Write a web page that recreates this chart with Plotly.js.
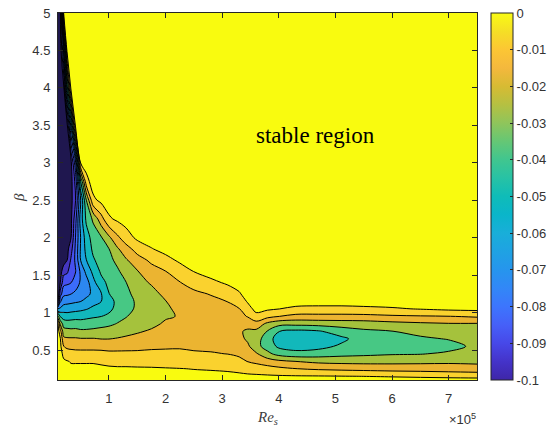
<!DOCTYPE html>
<html>
<head>
<meta charset="utf-8">
<script src="https://cdn.plot.ly/plotly-3.0.1.min.js"></script>
<style>html,body{margin:0;padding:0;background:#fff;}#chart{width:547px;height:432px;}</style>
</head>
<body>
<div id="chart"></div>
<script>
// Re_s grid (x) and beta grid (y)
const reS = [10000, 14000, 20000, 26000, 33000, 41000, 50000, 60000, 72000, 86000, 100000, 115000, 130000, 150000, 175000, 200000, 225000, 250000, 280000, 310000, 330000, 345000, 360000, 380000, 400000, 430000, 470000, 510000, 550000, 600000, 650000, 700000, 750000];
const beta = [0.1, 0.15, 0.25, 0.35, 0.45, 0.55, 0.65, 0.75, 0.85, 0.95, 1.05, 1.15, 1.25, 1.4, 1.55, 1.7, 1.85, 2.0, 2.25, 2.5, 2.75, 3.0, 3.5, 4.0, 4.5, 5.0];
// growth rate, one row per beta value
const growthRate = [
/*0.10*/ [0,0,-0.0005,-0.001,-0.001,-0.001,-0.001,-0.001,-0.001,-0.001,-0.001,-0.001,-0.001,-0.001,-0.001,-0.001,-0.001,-0.001,-0.001,-0.001,-0.001,-0.001,-0.001,-0.001,-0.001,-0.001,-0.001,-0.001,-0.001,-0.001,-0.001,-0.001,-0.001],
/*0.15*/ [0,-0.0003,-0.0015,-0.0024,-0.0026,-0.0028,-0.0028,-0.0028,-0.0028,-0.0028,-0.003,-0.003,-0.003,-0.003,-0.003,-0.003,-0.003,-0.003,-0.0032,-0.0033,-0.0035,-0.0036,-0.0035,-0.0037,-0.004,-0.0043,-0.0045,-0.0048,-0.0051,-0.0058,-0.0067,-0.0077,-0.0086],
/*0.25*/ [0,-0.0006,-0.0025,-0.0034,-0.0035,-0.0036,-0.0036,-0.0036,-0.0036,-0.0037,-0.0038,-0.004,-0.004,-0.0041,-0.0042,-0.0045,-0.0048,-0.0052,-0.0055,-0.006,-0.0068,-0.0081,-0.0095,-0.0113,-0.0128,-0.0148,-0.0164,-0.0173,-0.018,-0.0189,-0.0193,-0.02,-0.0207],
/*0.35*/ [0,-0.001,-0.0038,-0.0045,-0.0056,-0.0056,-0.0056,-0.0056,-0.0056,-0.0062,-0.0072,-0.0076,-0.0076,-0.008,-0.0082,-0.0085,-0.0088,-0.0095,-0.01,-0.0107,-0.0127,-0.0154,-0.0175,-0.0202,-0.023,-0.0252,-0.0275,-0.0283,-0.0286,-0.0283,-0.0278,-0.0271,-0.0276],
/*0.45*/ [0,-0.0015,-0.0073,-0.0106,-0.0115,-0.0119,-0.0119,-0.0119,-0.0119,-0.0121,-0.0128,-0.0129,-0.0129,-0.013,-0.0127,-0.0128,-0.013,-0.0139,-0.0143,-0.0152,-0.0166,-0.0192,-0.0237,-0.0325,-0.0386,-0.0415,-0.0405,-0.0382,-0.0371,-0.0359,-0.0355,-0.0335,-0.0312],
/*0.55*/ [0,-0.0025,-0.0148,-0.017,-0.0175,-0.0179,-0.0181,-0.0181,-0.0181,-0.0183,-0.0188,-0.0185,-0.0182,-0.0177,-0.0168,-0.0163,-0.016,-0.0166,-0.017,-0.0173,-0.0194,-0.0231,-0.0318,-0.0392,-0.047,-0.0495,-0.048,-0.0435,-0.0404,-0.0383,-0.0385,-0.038,-0.033],
/*0.65*/ [0,-0.004,-0.0227,-0.0237,-0.0238,-0.0238,-0.0244,-0.0244,-0.0244,-0.0252,-0.0252,-0.0244,-0.0234,-0.0223,-0.0204,-0.0188,-0.0182,-0.0188,-0.0191,-0.0194,-0.0221,-0.0267,-0.0305,-0.0405,-0.0498,-0.0525,-0.0512,-0.0472,-0.0405,-0.0374,-0.0365,-0.0345,-0.0318],
/*0.75*/ [-0.001,-0.0113,-0.0308,-0.0317,-0.0323,-0.0323,-0.0332,-0.0332,-0.0325,-0.0317,-0.0309,-0.0295,-0.0279,-0.026,-0.0239,-0.0213,-0.0203,-0.0211,-0.0213,-0.0215,-0.0238,-0.0265,-0.0272,-0.0355,-0.0448,-0.0475,-0.046,-0.0402,-0.0368,-0.0352,-0.0322,-0.0294,-0.0298],
/*0.85*/ [-0.004,-0.0267,-0.0395,-0.04,-0.0404,-0.0396,-0.0407,-0.0403,-0.0397,-0.0383,-0.0369,-0.0345,-0.0321,-0.0286,-0.0271,-0.0238,-0.0224,-0.0234,-0.0235,-0.0214,-0.0206,-0.0214,-0.0188,-0.0275,-0.0317,-0.0321,-0.0313,-0.0306,-0.03,-0.0281,-0.0267,-0.0257,-0.0258],
/*0.95*/ [-0.0317,-0.0452,-0.0494,-0.0506,-0.0494,-0.049,-0.0486,-0.0475,-0.0463,-0.0452,-0.0431,-0.0384,-0.0356,-0.0312,-0.03,-0.026,-0.0245,-0.0234,-0.0213,-0.0193,-0.0179,-0.0144,-0.008,-0.012,-0.0148,-0.0179,-0.0179,-0.0179,-0.0177,-0.0164,-0.0157,-0.0152,-0.0136],
/*1.05*/ [-0.0648,-0.0633,-0.06,-0.0595,-0.0592,-0.0583,-0.0573,-0.0557,-0.053,-0.0503,-0.0473,-0.0421,-0.0376,-0.0337,-0.0328,-0.0268,-0.0225,-0.0212,-0.0191,-0.0172,-0.0153,-0.0089,-0.002,-0.0035,-0.0048,-0.007,-0.0077,-0.0077,-0.0069,-0.006,-0.0045,-0.003,-0.0025],
/*1.15*/ [-0.108,-0.0763,-0.0692,-0.0683,-0.0673,-0.0663,-0.0652,-0.0623,-0.0583,-0.0553,-0.0477,-0.0432,-0.0395,-0.0332,-0.0306,-0.0253,-0.0204,-0.019,-0.017,-0.0148,-0.0107,-0.004,0,0,0,-0.001,-0.001,-0.001,-0.001,-0.0005,0,0,0],
/*1.25*/ [-0.115,-0.09,-0.0773,-0.0767,-0.0752,-0.073,-0.0687,-0.0676,-0.063,-0.0559,-0.0452,-0.0415,-0.0378,-0.0313,-0.0281,-0.0227,-0.0184,-0.0168,-0.0145,-0.0105,-0.006,-0.001,0,0,0,0,0,0,0,0,0,0,0],
/*1.40*/ [-0.12,-0.1052,-0.0883,-0.087,-0.0852,-0.0797,-0.0738,-0.0695,-0.058,-0.0483,-0.0427,-0.039,-0.0353,-0.0284,-0.024,-0.0188,-0.0154,-0.0118,-0.0074,-0.0035,-0.001,0,0,0,0,0,0,0,0,0,0,0,0],
/*1.55*/ [-0.122,-0.11,-0.0986,-0.097,-0.0893,-0.0855,-0.073,-0.0621,-0.0525,-0.0435,-0.0402,-0.0365,-0.0309,-0.0256,-0.0188,-0.0152,-0.0094,-0.0048,-0.001,0,0,0,0,0,0,0,0,0,0,0,0,0,0],
/*1.70*/ [-0.125,-0.114,-0.11,-0.1052,-0.0936,-0.083,-0.0648,-0.0552,-0.0463,-0.041,-0.0377,-0.0325,-0.0262,-0.019,-0.0131,-0.0079,-0.0035,-0.0005,0,0,0,0,0,0,0,0,0,0,0,0,0,0,0],
/*1.85*/ [-0.125,-0.118,-0.114,-0.1083,-0.099,-0.083,-0.0638,-0.052,-0.043,-0.0384,-0.0352,-0.0263,-0.0189,-0.0113,-0.0055,-0.002,0,0,0,0,0,0,0,0,0,0,0,0,0,0,0,0,0],
/*2.00*/ [-0.125,-0.1207,-0.1156,-0.1104,-0.1052,-0.0848,-0.0648,-0.0497,-0.041,-0.0362,-0.027,-0.017,-0.0097,-0.003,-0.0007,0,0,0,0,0,0,0,0,0,0,0,0,0,0,0,0,0,0],
/*2.25*/ [-0.125,-0.1212,-0.1165,-0.1119,-0.1073,-0.0883,-0.06,-0.043,-0.0333,-0.0192,-0.0065,-0.0032,-0.0008,0,0,0,0,0,0,0,0,0,0,0,0,0,0,0,0,0,0,0,0],
/*2.50*/ [-0.125,-0.1215,-0.1175,-0.1134,-0.1084,-0.0952,-0.0652,-0.0352,-0.0075,-0.0025,0,0,0,0,0,0,0,0,0,0,0,0,0,0,0,0,0,0,0,0,0,0,0],
/*2.75*/ [-0.125,-0.1217,-0.1177,-0.1137,-0.109,-0.0917,-0.0448,-0.009,0,0,0,0,0,0,0,0,0,0,0,0,0,0,0,0,0,0,0,0,0,0,0,0,0],
/*3.00*/ [-0.125,-0.1216,-0.1176,-0.1134,-0.1084,-0.0777,-0.0043,0,0,0,0,0,0,0,0,0,0,0,0,0,0,0,0,0,0,0,0,0,0,0,0,0,0],
/*3.50*/ [-0.125,-0.1202,-0.1155,-0.1088,-0.0621,-0.0021,0,0,0,0,0,0,0,0,0,0,0,0,0,0,0,0,0,0,0,0,0,0,0,0,0,0,0],
/*4.00*/ [-0.125,-0.1176,-0.1087,-0.0512,-0.0017,0,0,0,0,0,0,0,0,0,0,0,0,0,0,0,0,0,0,0,0,0,0,0,0,0,0,0,0],
/*4.50*/ [-0.125,-0.1145,-0.0717,-0.002,0,0,0,0,0,0,0,0,0,0,0,0,0,0,0,0,0,0,0,0,0,0,0,0,0,0,0,0,0],
/*5.00*/ [-0.125,-0.11,-0.0045,0,0,0,0,0,0,0,0,0,0,0,0,0,0,0,0,0,0,0,0,0,0,0,0,0,0,0,0,0,0]
];
// contour levels
const levelStart = -0.105, levelEnd = -0.005, levelStep = 0.01;
// fill colour of each band, lowest to highest
const bandColors = ['#1f174f','#4536c0','#4650ef','#3b6cfb','#2c87f0','#1aa2dd','#12b8bb','#47c884','#a5c23c','#ebb431','#fad22e','#f9fb0f'];
// colorbar
const cbTickVals = [0,-0.01,-0.02,-0.03,-0.04,-0.05,-0.06,-0.07,-0.08,-0.09,-0.1];
const cbTickText = ['0','-0.01','-0.02','-0.03','-0.04','-0.05','-0.06','-0.07','-0.08','-0.09','-0.1'];
const cbRange = [-0.1, 0];
const parula = [[0,'#3e26a8'],[0.05,'#4433c9'],[0.1,'#4748e8'],[0.15,'#4660f8'],[0.2,'#3d75fd'],[0.25,'#3287f7'],[0.3,'#2695ed'],[0.35,'#1fa2e3'],[0.4,'#19aed9'],[0.45,'#0ab5ca'],[0.5,'#0fbcb8'],[0.55,'#27c2a5'],[0.6,'#40c68f'],[0.65,'#65c775'],[0.7,'#8fc55b'],[0.75,'#b5c042'],[0.8,'#d7bb33'],[0.85,'#f4b83d'],[0.9,'#fcc634'],[0.95,'#f5df25'],[1,'#f9fb14']];
// axis ticks
const xTickVals = [100000,200000,300000,400000,500000,600000,700000];
const xTickText = ['1','2','3','4','5','6','7'];
const yTickVals = [0.5,1,1.5,2,2.5,3,3.5,4,4.5,5];
const yTickText = ['0.5','1','1.5','2','2.5','3','3.5','4','4.5','5'];

const nb = bandColors.length - 1;
const bandScale = [];
bandColors.forEach(function(c, k) {
  bandScale.push([Math.max(0, (k - 0.5) / nb), c]);
  bandScale.push([Math.min(1, (k + 0.5) / nb), c]);
});

const axisCol = '#262626';
const tickFont = {family: 'Liberation Sans, Arial, sans-serif', size: 13, color: '#333333'};

const contourTrace = {
  type: 'contour', x: reS, y: beta, z: growthRate,
  autocontour: false,
  contours: {start: levelStart, end: levelEnd, size: levelStep, coloring: 'fill', showlines: true},
  colorscale: bandScale, showscale: false,
  line: {color: '#000000', width: 1, smoothing: 1},
  hoverinfo: 'skip'
};
const cbTrace = {
  type: 'scatter', mode: 'markers', x: [-1e6, -1e6], y: [-10, -10],
  marker: {color: cbRange, cmin: cbRange[0], cmax: cbRange[1], colorscale: parula, showscale: true, size: 2,
    colorbar: {x: 1.0327, xanchor: 'left', xpad: 0, y: 0.5, yanchor: 'middle', len: 1, lenmode: 'fraction', ypad: 0,
      thickness: 22, thicknessmode: 'pixels', outlinewidth: 1, outlinecolor: axisCol, borderwidth: 0,
      tickmode: 'array', tickvals: cbTickVals, ticktext: cbTickText, ticks: 'inside', ticklen: 3, tickcolor: axisCol,
      tickfont: tickFont}},
  hoverinfo: 'skip', showlegend: false
};

const layout = {
  width: 547, height: 432,
  margin: {l: 58, r: 70, t: 13, b: 52, pad: 0, autoexpand: false},
  paper_bgcolor: '#ffffff', plot_bgcolor: '#ffffff',
  showlegend: false,
  xaxis: {range: [10000, 750000], tickmode: 'array', tickvals: xTickVals, ticktext: xTickText,
    ticks: 'inside', ticklen: 5, tickwidth: 1, tickcolor: axisCol, showline: true, linecolor: axisCol, linewidth: 1,
    mirror: 'ticks', showgrid: false, zeroline: false, tickfont: tickFont, ticklabelstandoff: 6},
  yaxis: {range: [0.1, 5], tickmode: 'array', tickvals: yTickVals, ticktext: yTickText,
    ticks: 'inside', ticklen: 5, tickwidth: 1, tickcolor: axisCol, showline: true, linecolor: axisCol, linewidth: 1,
    mirror: 'ticks', showgrid: false, zeroline: false, tickfont: tickFont, ticklabelstandoff: 4},
  annotations: [
    {text: 'stable region', xref: 'x', yref: 'y', x: 464000, y: 3.36, showarrow: false,
     font: {family: 'Liberation Serif, Times New Roman, serif', size: 23, color: '#000000'}},
    {text: '<i>Re</i><sub><i>s</i></sub>', xref: 'paper', yref: 'paper', x: 0.5, y: -0.1035, xanchor: 'center', yanchor: 'middle',
     showarrow: false, font: {family: 'Liberation Serif, Times New Roman, serif', size: 15, color: '#404040'}},
    {text: '<i>β</i>', xref: 'paper', yref: 'paper', x: -0.093, y: 0.496, xanchor: 'center', yanchor: 'middle', textangle: -90,
     showarrow: false, font: {family: 'Liberation Serif, Times New Roman, serif', size: 15, color: '#404040'}},
    {text: '×10<sup>5</sup>', xref: 'paper', yref: 'paper', x: 1.002, y: -0.106, xanchor: 'right', yanchor: 'middle',
     showarrow: false, font: tickFont}
  ]
};
Plotly.newPlot('chart', [contourTrace, cbTrace], layout, {displayModeBar: false, staticPlot: true});
</script>
</body>
</html>
